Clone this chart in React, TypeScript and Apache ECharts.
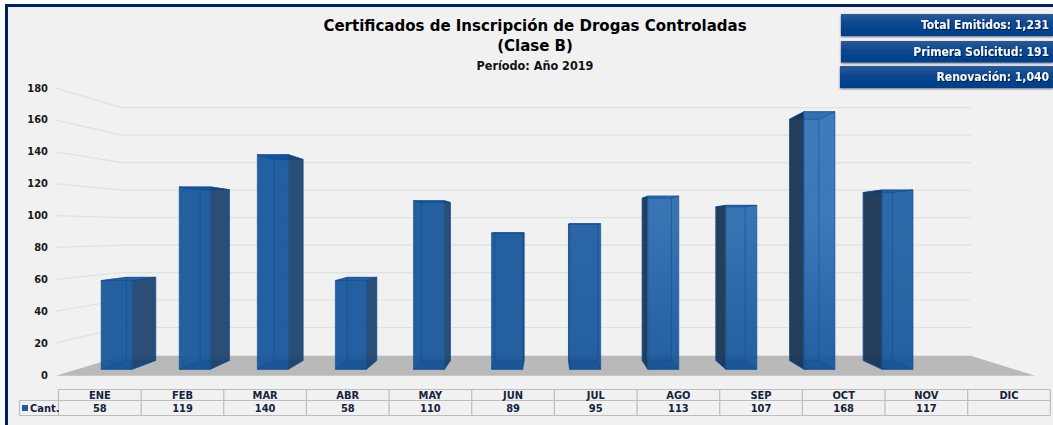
import React, { useEffect, useRef } from "react";
import * as echarts from "echarts";

const months = ["ENE", "FEB", "MAR", "ABR", "MAY", "JUN", "JUL", "AGO", "SEP", "OCT", "NOV", "DIC"];
const cantidad: (number | null)[] = [58, 119, 140, 58, 110, 89, 95, 113, 107, 168, 117, null];
const yTicks = [0, 20, 40, 60, 80, 100, 120, 140, 160, 180];
const summary = ["Total Emitidos: 1,231", "Primera Solicitud: 191", "Renovación: 1,040"];
const seriesName = "Cant.";

const FONT = "'DejaVu Sans'";
const COND = "'DejaVu Sans Condensed','DejaVu Sans'";
const VX = 549;
const VY = 230;
const BACK_X = 0.868;
const BACK_Y = 0.862;
const BAR_FRONT_X = 0.958;
const BAR_FRONT_Y = 0.962;
const BAR_BACK_X = 0.904;
const BAR_BACK_Y = 0.901;
const BAR_HALF = 16.2;

const px = (x: number, s: number) => VX + (x - VX) * s;
const py = (y: number, s: number) => VY + (y - VY) * s;

const sheen = [0, 0, 0, 0, 0, 0, 0.3, 0.8, 0.8, 1, 0.4, 0];
const mix = (f: number) => {
  const a = [18, 82, 152];
  const b = [48, 112, 181];
  const c = a.map((v, i) => Math.round(v + (b[i] - v) * f));
  return `rgba(${c[0]},${c[1]},${c[2]},0.92)`;
};

function renderWall(params: any, api: any) {
  const v = api.value(0);
  const cs = params.coordSys;
  const y = api.coord([0, v])[1];
  const l = cs.x;
  const r = cs.x + cs.width;
  const children: any[] = [];
  if (v === 0) {
    children.push({
      type: "polygon",
      shape: {
        points: [
          [l - 1, y + 0.7],
          [px(l, BACK_X), py(y, BACK_X)],
          [px(r, BACK_X), py(y, BACK_X)],
          [r, y + 0.7],
        ],
      },
      style: { fill: "#b9b9b9" },
    });
  } else {
    children.push({
      type: "polyline",
      shape: {
        points: [
          [l - 2, y],
          [px(l, BACK_X), py(y, BACK_Y)],
          [px(r, BACK_X), py(y, BACK_Y)],
        ],
      },
      style: { fill: "none", stroke: "#e0e0e0", lineWidth: 1.2 },
    });
  }
  return { type: "group", children };
}

function renderBar(params: any, api: any) {
  const idx = api.value(0);
  const val = api.value(1);
  const top = api.coord([idx, val]);
  const bottom = api.coord([idx, 0]);
  const cx = top[0];
  const x0 = cx - BAR_HALF;
  const x1 = cx + BAR_HALF;
  const yT = top[1];
  const yB = bottom[1] - 0.2;
  const P = (x: number, y: number, back: boolean) =>
    back ? [px(x, BAR_BACK_X), py(y, BAR_BACK_Y)] : [px(x, BAR_FRONT_X), py(y, BAR_FRONT_Y)];

  const fTL = P(x0, yT, false);
  const fTR = P(x1, yT, false);
  const fBL = P(x0, yB, false);
  const fBR = P(x1, yB, false);
  const bTL = P(x0, yT, true);
  const bTR = P(x1, yT, true);
  const bBL = P(x0, yB, true);
  const bBR = P(x1, yB, true);

  const onRightOfVp = cx > VX;
  const f = sheen[idx] ?? 0;
  const base = mix(0);
  const edge = "rgba(18,80,148,0.85)";
  const inner = "rgba(14,76,146,0.55)";

  const side = onRightOfVp ? [bTL, fTL, fBL, bBL] : [fTR, bTR, bBR, fBR];
  const sideFill = onRightOfVp ? "rgba(24,52,82,0.95)" : "rgba(27,66,108,0.93)";

  const frontFill =
    f > 0
      ? new echarts.graphic.LinearGradient(
          0,
          100,
          0,
          372,
          [
            { offset: 0, color: mix(f) },
            { offset: 0.45, color: mix(f * 0.9) },
            { offset: 0.8, color: mix(f * 0.3) },
            { offset: 1, color: base },
          ],
          true
        )
      : base;

  return {
    type: "group",
    children: [
      {
        type: "polygon",
        shape: { points: [bTL, bTR, fTR, fTL] },
        style: { fill: mix(f), stroke: edge, lineWidth: 0.8 },
      },
      {
        type: "polygon",
        shape: { points: side },
        style: { fill: sideFill, stroke: edge, lineWidth: 0.6 },
      },
      {
        type: "polygon",
        shape: { points: [fTL, fTR, fBR, fBL] },
        style: { fill: frontFill, stroke: edge, lineWidth: 0.8 },
      },
      {
        type: "polygon",
        shape: { points: [fBL, fBR, bBR, bBL] },
        style: { fill: "rgba(8,55,115,0.14)", stroke: inner, lineWidth: 0.8 },
      },
      {
        type: "polyline",
        shape: { points: [bTL, bBL] },
        style: { fill: "none", stroke: inner, lineWidth: 1 },
      },
      {
        type: "polyline",
        shape: { points: [bTR, bBR] },
        style: { fill: "none", stroke: inner, lineWidth: 1 },
      },
      {
        type: "polyline",
        shape: { points: [fTL, bTL, bTR, fTR] },
        style: { fill: "none", stroke: inner, lineWidth: 0.8 },
      },
    ],
  };
}

function tableGraphics() {
  const left = 58.5;
  const colW = 82.65;
  const rowTop = 389.5;
  const rowMid = 400.5;
  const rowBot = 415.5;
  const headLeft = 19.5;
  const right = left + colW * months.length;
  const els: any[] = [];
  const line = (x1: number, y1: number, x2: number, y2: number) =>
    els.push({
      type: "line",
      shape: { x1, y1, x2, y2 },
      style: { stroke: "#bdbdbd", lineWidth: 1.2 },
    });
  line(left, rowTop, right, rowTop);
  line(headLeft, rowMid, right, rowMid);
  line(headLeft, rowBot, right, rowBot);
  line(headLeft, rowMid, headLeft, rowBot);
  const style = (text: string, align: string) => ({
    text,
    fill: "#14233c",
    font: `bold 11px ${COND}`,
    textAlign: align,
    textVerticalAlign: "middle",
  });
  months.forEach((m, i) => {
    const x = left + colW * i;
    line(x, rowTop, x, rowBot);
    els.push({ type: "text", x: x + colW / 2, y: (rowTop + rowMid) / 2 + 0.5, style: style(m, "center") });
    const v = cantidad[i];
    if (v !== null) {
      els.push({ type: "text", x: x + colW / 2, y: (rowMid + rowBot) / 2 + 0.5, style: style(String(v), "center") });
    }
  });
  line(right, rowTop, right, rowBot);
  els.push({ type: "rect", shape: { x: 22, y: 405, width: 6, height: 6 }, style: { fill: "#1f5c9e" } });
  els.push({ type: "text", x: 30, y: (rowMid + rowBot) / 2, style: style(seriesName, "left") });
  return els;
}

function buttonGraphics() {
  const boxes = [
    { x: 841, y: 14, h: 22 },
    { x: 841, y: 41, h: 21.5 },
    { x: 840, y: 66, h: 22 },
  ];
  const els: any[] = [];
  boxes.forEach((b, i) => {
    els.push({
      type: "rect",
      shape: { x: b.x, y: b.y, width: 1053 - b.x, height: b.h },
      style: {
        fill: new echarts.graphic.LinearGradient(0, 0, 0, 1, [
          { offset: 0, color: "#2b5a96" },
          { offset: 0.45, color: "#0a4790" },
          { offset: 1, color: "#003e8c" },
        ]),
        shadowColor: "rgba(0,0,0,0.55)",
        shadowBlur: 2,
        shadowOffsetY: 1,
      },
    });
    els.push({
      type: "text",
      x: 1049,
      y: b.y + b.h / 2,
      style: {
        text: summary[i],
        fill: "#f4f6fa",
        font: `bold 12px ${COND}`,
        textAlign: "right",
        textVerticalAlign: "middle",
        textShadowColor: "rgba(0,0,0,0.6)",
        textShadowBlur: 1,
        textShadowOffsetX: 1,
        textShadowOffsetY: 1,
      },
    });
  });
  return els;
}

export default function App() {
  const ref = useRef<HTMLDivElement>(null);
  useEffect(() => {
    const chart = echarts.init(ref.current!, undefined, { renderer: "svg" });
    chart.setOption({
      animation: false,
      title: {
        text: "Certificados de Inscripción de Drogas Controladas\n(Clase B)",
        subtext: "Período: Año 2019",
        left: 535,
        top: 16,
        textAlign: "center",
        itemGap: 2,
        padding: 0,
        textStyle: { fontFamily: FONT, fontWeight: "bold", fontSize: 15, lineHeight: 20, color: "#000" },
        subtextStyle: { fontFamily: COND, fontWeight: "bold", fontSize: 12.5, lineHeight: 14, color: "#111" },
      },
      grid: { left: 57, width: 978, top: 88, height: 287 },
      xAxis: { type: "category", data: months, show: false },
      yAxis: {
        type: "value",
        min: 0,
        max: 180,
        interval: 20,
        axisLine: { show: false },
        axisTick: { show: false },
        splitLine: { show: false },
        axisLabel: {
          margin: 9,
          padding: [2, 0, 0, 0],
          color: "#1a1a1a",
          fontFamily: COND,
          fontWeight: "bold",
          fontSize: 11,
        },
      },
      graphic: [
        { type: "rect", z: -10, shape: { x: 8, y: 7, width: 1045, height: 418 }, style: { fill: "#f1f1f1" } },
        { type: "rect", z: -9, shape: { x: 5, y: 4, width: 1048, height: 3 }, style: { fill: "#01205f" } },
        { type: "rect", z: -9, shape: { x: 5, y: 4, width: 3, height: 421 }, style: { fill: "#01205f" } },
        ...tableGraphics(),
        ...buttonGraphics(),
      ],
      series: [
        {
          type: "custom",
          name: "Pared",
          z: 1,
          silent: true,
          renderItem: renderWall,
          encode: { y: 0 },
          data: yTicks.map((v) => [v]),
        },
        {
          type: "custom",
          name: seriesName,
          z: 2,
          renderItem: renderBar,
          encode: { x: 0, y: 1 },
          data: cantidad.map((v, i) => (v === null ? null : [i, v])).filter(Boolean),
        },
      ],
    });
    return () => chart.dispose();
  }, []);
  return <div ref={ref} style={{ position: "absolute", left: 0, top: 0, width: 1053, height: 425 }} />;
}
